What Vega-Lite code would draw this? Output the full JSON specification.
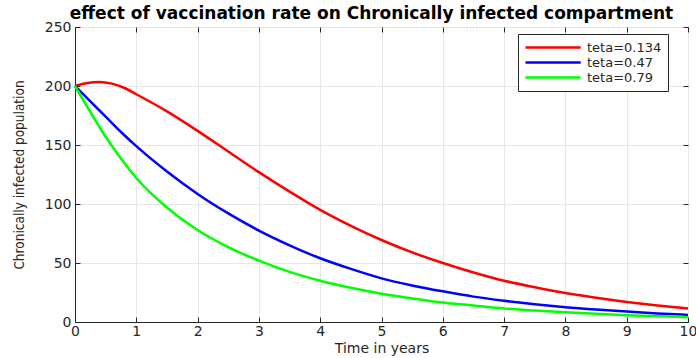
{
  "$schema": "https://vega.github.io/schema/vega-lite/v6.json",
  "autosize": {"type": "none"},
  "width": 613,
  "height": 295,
  "padding": {"left": 75, "top": 27, "right": 8, "bottom": 36},
  "background": "white",
  "config": {
    "view": {"stroke": "#262626", "strokeWidth": 1},
    "font": "DejaVu Sans"
  },
  "title": {
    "text": "effect of vaccination rate on Chronically infected compartment",
    "fontSize": 17,
    "fontWeight": "bold",
    "font": "DejaVu Sans",
    "color": "#000000",
    "offset": 4,
    "dy": 7,
    "dx": -10
  },
  "data": {
    "values": [
      {"t": 0, "v": 200, "s": "teta=0.134"},
      {"t": 0.2, "v": 202.6, "s": "teta=0.134"},
      {"t": 0.4, "v": 203.4, "s": "teta=0.134"},
      {"t": 0.6, "v": 202, "s": "teta=0.134"},
      {"t": 0.8, "v": 198.5, "s": "teta=0.134"},
      {"t": 1, "v": 193, "s": "teta=0.134"},
      {"t": 1.5, "v": 178.5, "s": "teta=0.134"},
      {"t": 2, "v": 162, "s": "teta=0.134"},
      {"t": 2.5, "v": 144.5, "s": "teta=0.134"},
      {"t": 3, "v": 127, "s": "teta=0.134"},
      {"t": 3.5, "v": 110.5, "s": "teta=0.134"},
      {"t": 4, "v": 95, "s": "teta=0.134"},
      {"t": 4.5, "v": 81.5, "s": "teta=0.134"},
      {"t": 5, "v": 69.5, "s": "teta=0.134"},
      {"t": 5.5, "v": 59, "s": "teta=0.134"},
      {"t": 6, "v": 50, "s": "teta=0.134"},
      {"t": 6.5, "v": 42, "s": "teta=0.134"},
      {"t": 7, "v": 35, "s": "teta=0.134"},
      {"t": 7.5, "v": 29.5, "s": "teta=0.134"},
      {"t": 8, "v": 24.5, "s": "teta=0.134"},
      {"t": 8.5, "v": 20.5, "s": "teta=0.134"},
      {"t": 9, "v": 17, "s": "teta=0.134"},
      {"t": 9.5, "v": 14, "s": "teta=0.134"},
      {"t": 10, "v": 11.5, "s": "teta=0.134"},
      {"t": 0, "v": 200, "s": "teta=0.47"},
      {"t": 0.25, "v": 187, "s": "teta=0.47"},
      {"t": 0.5, "v": 174, "s": "teta=0.47"},
      {"t": 0.75, "v": 161, "s": "teta=0.47"},
      {"t": 1, "v": 149, "s": "teta=0.47"},
      {"t": 1.5, "v": 127.5, "s": "teta=0.47"},
      {"t": 2, "v": 108.5, "s": "teta=0.47"},
      {"t": 2.5, "v": 92, "s": "teta=0.47"},
      {"t": 3, "v": 77.5, "s": "teta=0.47"},
      {"t": 3.5, "v": 65, "s": "teta=0.47"},
      {"t": 4, "v": 54, "s": "teta=0.47"},
      {"t": 4.5, "v": 45, "s": "teta=0.47"},
      {"t": 5, "v": 37, "s": "teta=0.47"},
      {"t": 5.5, "v": 31, "s": "teta=0.47"},
      {"t": 6, "v": 26, "s": "teta=0.47"},
      {"t": 6.5, "v": 21.5, "s": "teta=0.47"},
      {"t": 7, "v": 18, "s": "teta=0.47"},
      {"t": 7.5, "v": 15, "s": "teta=0.47"},
      {"t": 8, "v": 12.5, "s": "teta=0.47"},
      {"t": 8.5, "v": 10.5, "s": "teta=0.47"},
      {"t": 9, "v": 8.8, "s": "teta=0.47"},
      {"t": 9.5, "v": 7.3, "s": "teta=0.47"},
      {"t": 10, "v": 6, "s": "teta=0.47"},
      {"t": 0, "v": 200, "s": "teta=0.79"},
      {"t": 0.25, "v": 178, "s": "teta=0.79"},
      {"t": 0.5, "v": 157, "s": "teta=0.79"},
      {"t": 0.75, "v": 138.5, "s": "teta=0.79"},
      {"t": 1, "v": 122, "s": "teta=0.79"},
      {"t": 1.5, "v": 97, "s": "teta=0.79"},
      {"t": 2, "v": 78, "s": "teta=0.79"},
      {"t": 2.5, "v": 63.5, "s": "teta=0.79"},
      {"t": 3, "v": 52, "s": "teta=0.79"},
      {"t": 3.5, "v": 42.5, "s": "teta=0.79"},
      {"t": 4, "v": 35, "s": "teta=0.79"},
      {"t": 4.5, "v": 29, "s": "teta=0.79"},
      {"t": 5, "v": 24, "s": "teta=0.79"},
      {"t": 5.5, "v": 20, "s": "teta=0.79"},
      {"t": 6, "v": 16.5, "s": "teta=0.79"},
      {"t": 6.5, "v": 14, "s": "teta=0.79"},
      {"t": 7, "v": 11.5, "s": "teta=0.79"},
      {"t": 7.5, "v": 9.7, "s": "teta=0.79"},
      {"t": 8, "v": 8.2, "s": "teta=0.79"},
      {"t": 8.5, "v": 6.9, "s": "teta=0.79"},
      {"t": 9, "v": 5.8, "s": "teta=0.79"},
      {"t": 9.5, "v": 4.9, "s": "teta=0.79"},
      {"t": 10, "v": 4.1, "s": "teta=0.79"}
    ]
  },
  "layer": [
    {
      "mark": {"type": "line", "strokeWidth": 2.5, "interpolate": "monotone"},
      "encoding": {
        "x": {
          "field": "t", "type": "quantitative",
          "scale": {"domain": [0, 10], "nice": false, "zero": false},
          "axis": {
            "values": [0,1,2,3,4,5,6,7,8,9,10],
            "title": "Time in years",
            "titleFont": "DejaVu Sans",
            "titleFontSize": 14,
            "titleFontWeight": "normal",
            "titleColor": "#262626",
            "titlePadding": 3,
            "labelFontSize": 14,
            "labelColor": "#262626",
            "labelPadding": 7,
            "tickSize": -5,
            "tickColor": "#262626",
            "domainColor": "#262626",
            "gridColor": "#e6e6e6",
            "labelFlush": false
          }
        },
        "y": {
          "field": "v", "type": "quantitative",
          "scale": {"domain": [0, 250], "nice": false},
          "axis": {
            "values": [0, 50, 100, 150, 200, 250],
            "title": "Chronically infected population",
            "titleFont": "DejaVu Sans Condensed",
            "titleFontSize": 13.5,
            "titleFontWeight": "normal",
            "titleColor": "#262626",
            "titlePadding": 18,
            "labelFontSize": 14,
            "labelColor": "#262626",
            "labelPadding": 9,
            "tickSize": -5,
            "tickColor": "#262626",
            "domainColor": "#262626",
            "gridColor": "#e6e6e6",
            "labelFlush": false
          }
        },
        "color": {
          "field": "s", "type": "nominal",
          "scale": {"domain": ["teta=0.134", "teta=0.47", "teta=0.79"], "range": ["#ff0000", "#0000ff", "#00ff00"]},
          "legend": {
            "title": null,
            "orient": "none",
            "legendX": 443,
            "legendY": 7,
            "symbolType": "M-1,0H8.2",
            "symbolSize": 144,
            "symbolStrokeWidth": 2.5,
            "labelFontSize": 13,
            "labelColor": "#262626",
            "labelFont": "DejaVu Sans",
            "rowPadding": 0,
            "padding": 6,
            "strokeColor": "#262626",
            "fillColor": "white",
            "labelOffset": 48
          }
        }
      }
    },
    {
      "mark": {"type": "line", "opacity": 0},
      "encoding": {
        "x": {
          "field": "t", "type": "quantitative",
          "axis": {"orient": "top", "values": [0,1,2,3,4,5,6,7,8,9,10], "labels": false, "title": null, "grid": false, "tickSize": -5, "tickColor": "#262626", "domain": false}
        },
        "y": {
          "field": "v", "type": "quantitative",
          "axis": {"orient": "right", "values": [0,50,100,150,200,250], "labels": false, "title": null, "grid": false, "tickSize": -5, "tickColor": "#262626", "domain": false}
        },
        "detail": {"field": "s"}
      }
    }
  ],
  "resolve": {"axis": {"x": "independent", "y": "independent"}}
}
